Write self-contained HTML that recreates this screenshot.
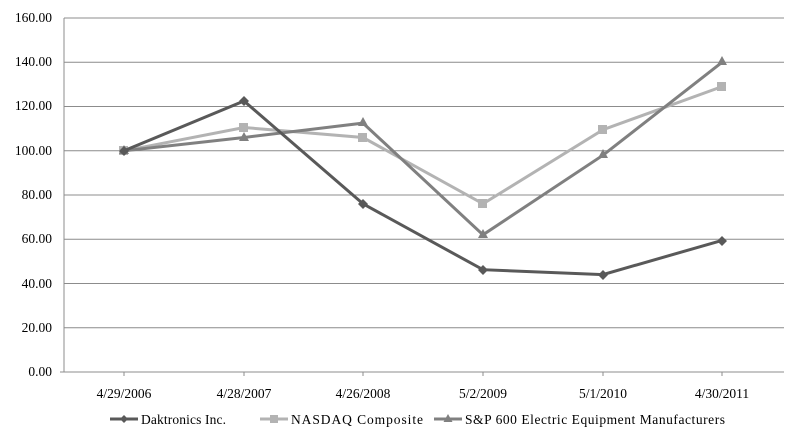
<!DOCTYPE html>
<html><head><style>body{margin:0;background:#fff}svg{display:block}</style></head><body>
<svg width="800" height="439" xmlns="http://www.w3.org/2000/svg" font-family="Liberation Serif, serif" font-size="13.5" fill="#000">
<rect width="800" height="439" fill="#fff"/>
<g stroke="#8c8c8c" stroke-width="1">
<line x1="64" y1="18" x2="784" y2="18"/><line x1="64" y1="62.3" x2="784" y2="62.3"/><line x1="64" y1="106.5" x2="784" y2="106.5"/><line x1="64" y1="150.8" x2="784" y2="150.8"/><line x1="64" y1="195" x2="784" y2="195"/><line x1="64" y1="239.3" x2="784" y2="239.3"/><line x1="64" y1="283.5" x2="784" y2="283.5"/><line x1="64" y1="327.8" x2="784" y2="327.8"/>
<line x1="64" y1="18" x2="64" y2="372"/><line x1="60" y1="372" x2="784" y2="372"/>
<line x1="124" y1="372" x2="124" y2="376"/><line x1="244" y1="372" x2="244" y2="376"/><line x1="363" y1="372" x2="363" y2="376"/><line x1="483" y1="372" x2="483" y2="376"/><line x1="603" y1="372" x2="603" y2="376"/><line x1="722" y1="372" x2="722" y2="376"/>
</g>
<g text-anchor="end">
<text x="52" y="22">160.00</text><text x="52" y="66">140.00</text><text x="52" y="110">120.00</text><text x="52" y="155">100.00</text><text x="52" y="199">80.00</text><text x="52" y="243">60.00</text><text x="52" y="288">40.00</text><text x="52" y="332">20.00</text><text x="52" y="376">0.00</text>
</g>
<g text-anchor="middle">
<text x="124" y="398">4/29/2006</text><text x="244" y="398">4/28/2007</text><text x="363" y="398">4/26/2008</text><text x="483" y="398">5/2/2009</text><text x="603" y="398">5/1/2010</text><text x="722" y="398">4/30/2011</text>
</g>
<polyline fill="none" stroke="#b3b3b3" stroke-width="3" points="124,150.8 244,127.5 363,137.5 483,203.8 603,129.7 722,86.6"/>
<g fill="#b3b3b3"><rect x="119" y="146" width="9" height="9"/><rect x="239" y="123" width="9" height="9"/><rect x="358" y="133" width="9" height="9"/><rect x="478" y="199" width="9" height="9"/><rect x="598" y="125" width="9" height="9"/><rect x="717" y="82" width="9" height="9"/></g>
<polyline fill="none" stroke="#808080" stroke-width="3" points="124,150.8 244,137.5 363,123.1 483,234.8 603,155.2 722,62.3"/>
<g fill="#808080"><path d="M124,145 l5,9 h-10z"/><path d="M244,132 l5,9 h-10z"/><path d="M363,117 l5,9 h-10z"/><path d="M483,229 l5,9 h-10z"/><path d="M603,149 l5,9 h-10z"/><path d="M722,56 l5,9 h-10z"/></g>
<polyline fill="none" stroke="#595959" stroke-width="3" points="124,150.8 244,101 363,203.8 483,269.7 603,274.6 722,240.4"/>
<g fill="#595959"><path d="M124,146 l5,5 l-5,5 l-5,-5z"/><path d="M244,96 l5,5 l-5,5 l-5,-5z"/><path d="M363,199 l5,5 l-5,5 l-5,-5z"/><path d="M483,265 l5,5 l-5,5 l-5,-5z"/><path d="M603,270 l5,5 l-5,5 l-5,-5z"/><path d="M722,236 l5,5 l-5,5 l-5,-5z"/></g>
<line x1="110" y1="419" x2="138" y2="419" stroke="#595959" stroke-width="3"/><path d="M124,415 l4,4 l-4,4 l-4,-4z" fill="#595959"/>
<text x="141" y="424" textLength="85">Daktronics Inc.</text>
<line x1="260" y1="419" x2="288" y2="419" stroke="#b3b3b3" stroke-width="3"/><rect x="270" y="415" width="8" height="8" fill="#b3b3b3"/>
<text x="291" y="424" textLength="132">NASDAQ Composite</text>
<line x1="434" y1="419" x2="462" y2="419" stroke="#808080" stroke-width="3"/><path d="M448,414 l4.5,8 h-9z" fill="#808080"/>
<text x="465" y="424" textLength="260">S&amp;P 600 Electric Equipment Manufacturers</text>
</svg>
</body></html>
